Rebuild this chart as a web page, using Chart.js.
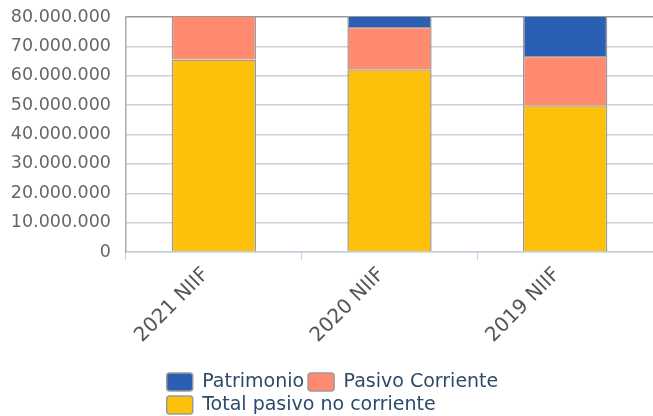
<!DOCTYPE html>
<html>
<head>
<meta charset="utf-8">
<script src="https://cdn.jsdelivr.net/npm/chart.js@4/dist/chart.umd.min.js"></script>
<style>
    html, body { margin: 0; padding: 0; background: #fff; }
    #wrap { width: 653px; height: 416px; position: relative; }
</style>
</head>
<body>
<div id="wrap"><canvas id="chart"></canvas></div>
<script>
const categories = ["2021 NIIF", "2020 NIIF", "2019 NIIF"];

// stacked bottom -> top
const pasivoNoCorriente = [65500000, 62200000, 50000000];
const pasivoCorriente = [16000000, 14400000, 16700000];
const patrimonio = [6000000, 5000000, 15000000];

const yTicks = [0, 10000000, 20000000, 30000000, 40000000, 50000000, 60000000, 70000000, 80000000];

const COLORS = {
    patrimonio: "#2b5fb3",
    corriente: "#ff8a70",
    noCorriente: "#fec10b",
};

const FONT_FAMILY = "'DejaVu Sans', sans-serif";

const formatMiles = (v) => String(v).replace(/\B(?=(\d{3})+(?!\d))/g, ".");

const barStyle = {
    borderColor: "#9a9a9a",
    borderWidth: 1.5,
    barPercentage: 0.48,
    categoryPercentage: 1,
};

// legend wraps like the original: two rows, both starting at the same x
const legendRows = {
    id: "legendRows",
    beforeDraw(chart) {
        const lg = chart.legend;
        if (!lg || !lg.lineWidths) return;
        const max = Math.max(...lg.lineWidths);
        lg.lineWidths = lg.lineWidths.map(() => max);
        lg.left = 12;
        lg.right = chart.width;
        lg.top += 8.5;
    },
};

new Chart(document.getElementById("chart"), {
    type: "bar",
    data: {
        labels: categories,
        datasets: [
            { label: "Total pasivo no corriente", data: pasivoNoCorriente, backgroundColor: COLORS.noCorriente, ...barStyle },
            { label: "Pasivo Corriente", data: pasivoCorriente, backgroundColor: COLORS.corriente, ...barStyle },
            { label: "Patrimonio", data: patrimonio, backgroundColor: COLORS.patrimonio, ...barStyle },
        ],
    },
    options: {
        responsive: true,
        maintainAspectRatio: false,
        animation: false,
        layout: { padding: { left: 0, top: 17, right: 0, bottom: 0 } },
        scales: {
            x: {
                stacked: true,
                afterFit: (scale) => { scale.height = 108; },
                grid: { drawOnChartArea: false, offset: true, color: "#c0d0e0", tickLength: 8 },
                border: { color: "#c0d0e0", width: 1.5 },
                ticks: {
                    font: { family: FONT_FAMILY, size: 20 },
                    color: "#555",
                    minRotation: 45,
                    maxRotation: 45,
                    padding: 3,
                    labelOffset: -8,
                },
            },
            y: {
                stacked: true,
                min: 0,
                max: 80000000,
                afterFit: (scale) => {
                    scale.width = 126;
                    scale.paddingTop = 0;
                    scale.paddingBottom = 0;
                },
                afterBuildTicks: (axis) => { axis.ticks = yTicks.map((value) => ({ value })); },
                grid: {
                    drawTicks: false,
                    color: (ctx) => (ctx.tick && ctx.tick.value === 80000000 ? "#999" : "#cfcfcf"),
                    lineWidth: 1.5,
                },
                border: { color: "#aaa", width: 1.5 },
                ticks: {
                    font: { family: FONT_FAMILY, size: 17.5 },
                    color: "#666",
                    padding: 15,
                    callback: (v) => formatMiles(v),
                },
            },
        },
        plugins: {
            legend: {
                position: "bottom",
                fullSize: false,
                reverse: true,
                labels: {
                    font: { family: FONT_FAMILY, size: 19 },
                    color: "#2e4a6b",
                    boxWidth: 26,
                    boxHeight: 18,
                    padding: 4,
                    useBorderRadius: true,
                    borderRadius: 3,
                },
            },
            tooltip: { enabled: false },
        },
    },
    plugins: [legendRows],
});
</script>
</body>
</html>
